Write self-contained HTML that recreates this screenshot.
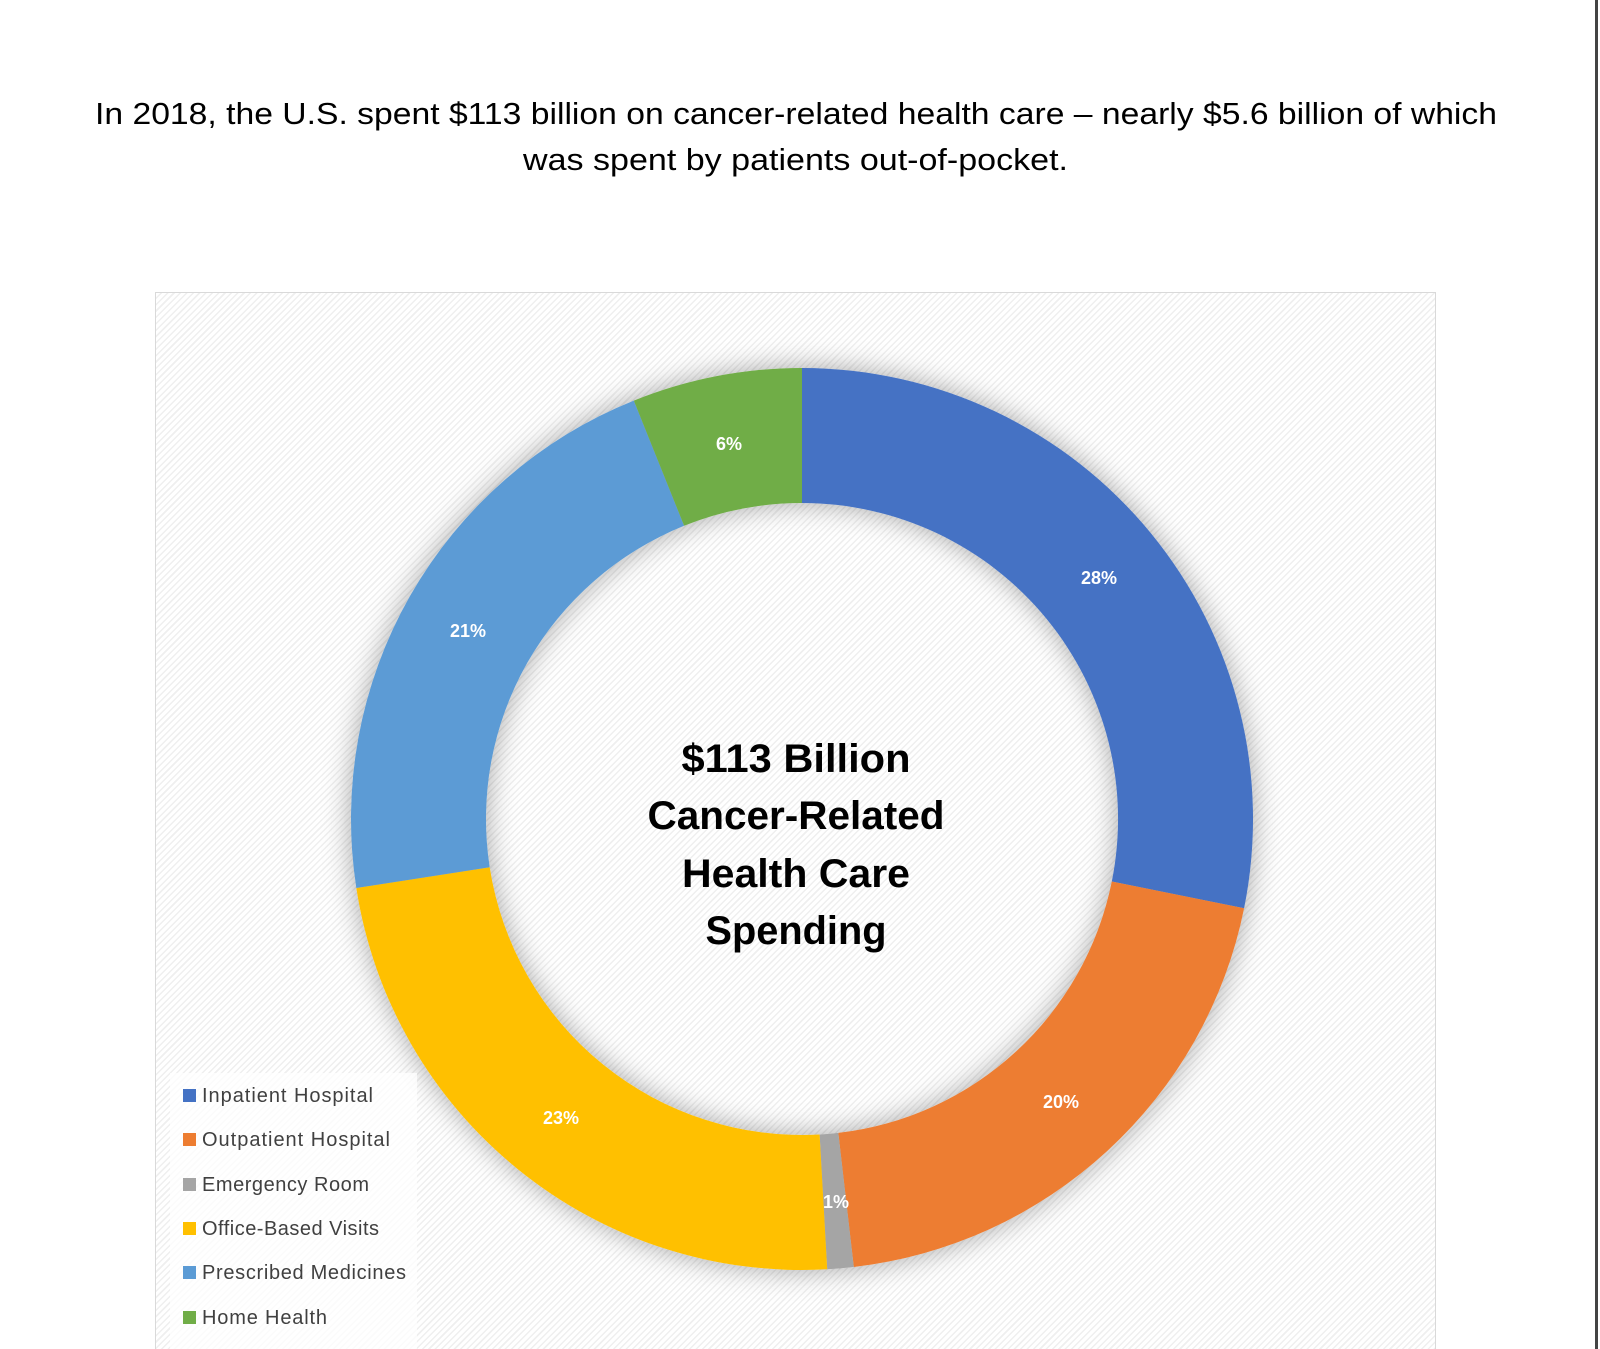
<!DOCTYPE html>
<html><head><meta charset="utf-8"><style>
html,body{margin:0;padding:0;background:#fff;width:1600px;height:1349px;overflow:hidden}
.wrap{position:relative;width:1600px;height:1349px;overflow:hidden}
.box{position:absolute;left:155px;top:292px;width:1281px;height:1057px;border:1px solid #d9d9d9;border-bottom:none;box-sizing:border-box;
background:repeating-linear-gradient(135deg,#fff 0px,#fff 3px,#efefef 3px,#efefef 4.5px)}
.vl{position:absolute;left:1595px;top:0;width:3px;height:1349px;background:#444}
svg{position:absolute;left:0;top:0;display:block}
</style></head><body><div class="wrap">
<div class="box"></div>
<div class="vl"></div>
<svg width="1600" height="1349" viewBox="0 0 1600 1349" font-family="'Liberation Sans',sans-serif">
<defs><filter id="sh" x="-20%" y="-20%" width="140%" height="140%"><feDropShadow dx="0" dy="0" stdDeviation="14" flood-color="#000" flood-opacity="0.35"/></filter></defs>
<text x="95" y="124" font-size="31" textLength="1402" lengthAdjust="spacingAndGlyphs" fill="#000">In 2018, the U.S. spent $113 billion on cancer-related health care – nearly $5.6 billion of which</text>
<text x="523" y="170" font-size="31" textLength="545" lengthAdjust="spacingAndGlyphs" fill="#000">was spent by patients out-of-pocket.</text>
<g filter="url(#sh)">
<path d="M802,368 A451,451 0 0 1 1244.1,908.2 L1111.8,881.5 A316,316 0 0 0 802,503 Z" fill="#4472C4"/>
<path d="M1244.1,908.2 A451,451 0 0 1 853.8,1267 L838.3,1132.9 A316,316 0 0 0 1111.8,881.5 Z" fill="#ED7D31"/>
<path d="M853.8,1267 A451,451 0 0 1 827.2,1269.3 L819.6,1134.5 A316,316 0 0 0 838.3,1132.9 Z" fill="#A5A5A5"/>
<path d="M827.2,1269.3 A451,451 0 0 1 356.3,888 L489.7,867.3 A316,316 0 0 0 819.6,1134.5 Z" fill="#FFC000"/>
<path d="M356.3,888 A451,451 0 0 1 633.8,400.6 L684.1,525.8 A316,316 0 0 0 489.7,867.3 Z" fill="#5B9BD5"/>
<path d="M633.8,400.6 A451,451 0 0 1 802,368 L802,503 A316,316 0 0 0 684.1,525.8 Z" fill="#70AD47"/>
</g>
<g fill="#fff" font-size="18" font-weight="bold" text-anchor="middle">
<text x="1099" y="584">28%</text><text x="1061" y="1108">20%</text><text x="836" y="1208">1%</text>
<text x="561" y="1124">23%</text><text x="468" y="637">21%</text><text x="729" y="450">6%</text>
</g>
<g font-size="40" font-weight="bold" fill="#000" text-anchor="middle">
<text x="796" y="772" textLength="229" lengthAdjust="spacingAndGlyphs">$113 Billion</text>
<text x="796" y="829" textLength="297" lengthAdjust="spacingAndGlyphs">Cancer-Related</text>
<text x="796" y="887" textLength="228" lengthAdjust="spacingAndGlyphs">Health Care</text>
<text x="796" y="944" textLength="181" lengthAdjust="spacingAndGlyphs">Spending</text>
</g>
<rect x="170" y="1073" width="247" height="276" fill="#fff" fill-opacity="0.75"/>
<g font-size="20" fill="#404040" lengthAdjust="spacingAndGlyphs">
<rect x="183" y="1089" width="13" height="13" fill="#4472C4"/><text x="202" y="1102" textLength="171">Inpatient Hospital</text>
<rect x="183" y="1133" width="13" height="13" fill="#ED7D31"/><text x="202" y="1146" textLength="188">Outpatient Hospital</text>
<rect x="183" y="1178" width="13" height="13" fill="#A5A5A5"/><text x="202" y="1191" textLength="167">Emergency Room</text>
<rect x="183" y="1222" width="13" height="13" fill="#FFC000"/><text x="202" y="1235" textLength="177">Office-Based Visits</text>
<rect x="183" y="1266" width="13" height="13" fill="#5B9BD5"/><text x="202" y="1279" textLength="204">Prescribed Medicines</text>
<rect x="183" y="1311" width="13" height="13" fill="#70AD47"/><text x="202" y="1324" textLength="125">Home Health</text>
</g>
</svg>
</div></body></html>
